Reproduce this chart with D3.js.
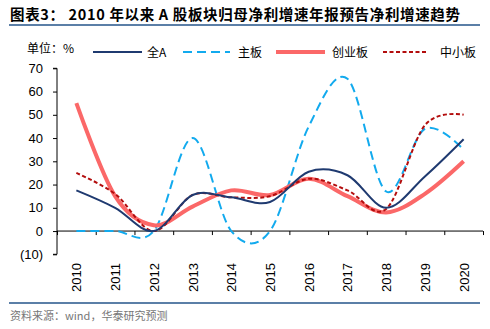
<!DOCTYPE html>
<html><head><meta charset="utf-8">
<script src="https://cdn.jsdelivr.net/npm/d3@7"></script>
<style>
html,body{margin:0;padding:0;background:#fff;}
svg{display:block;}
</style></head>
<body>
<svg id="chart" width="490" height="329"></svg>
<script>
const years = ["2010","2011","2012","2013","2014","2015","2016","2017","2018","2019","2020"];
const quanA = [17.5, 10, 0, 15.5, 14.5, 12.5, 25.5, 24, 10, 23.5, 39.5];
const zhuban = [0, 0, 0, 40, 0, 0, 45, 65.5, 17, 44, 35];
const chuangye = [55, 15, 2.5, 10.5, 17.5, 15.5, 22.5, 15, 8, 16, 30];
const zhongxiao = [25, 16, 0, 15.5, 14.5, 15, 22.5, 17.5, 9.5, 45.5, 50];
const yTicks = [-10, 0, 10, 20, 30, 40, 50, 60, 70];
const seriesNames = ["全A", "主板", "创业板", "中小板"];

const svg = d3.select("#chart");
const font = "'Liberation Sans', Arial, sans-serif";
const cjk = "'Noto Sans CJK SC', sans-serif";

// title
svg.append("text").attr("x", 10).attr("y", 20)
  .attr("font-family", cjk).attr("font-weight", "bold").attr("font-size", 14.5).attr("fill", "#000")
  .attr("textLength", 450).attr("lengthAdjust", "spacing")
  .text("图表3：  2010 年以来 A 股板块归母净利增速年报预告净利增速趋势");
svg.append("line").attr("x1", 9).attr("x2", 480).attr("y1", 25).attr("y2", 25)
  .attr("stroke", "#5b7fa7").attr("stroke-width", 2);

const x = d3.scaleBand().domain(years).range([57, 483]);
const y = d3.scaleLinear().domain([-10, 70]).range([254.3, 68.3]);

// y axis
const yAxis = d3.axisLeft(y).tickValues(yTicks).tickSize(4).tickPadding(10)
  .tickFormat(d => d < 0 ? "(" + Math.abs(d) + ")" : d);
const gy = svg.append("g").attr("transform", "translate(57,0)").call(yAxis);
gy.select(".domain").attr("d", `M-4,${y(-10)}H0V${y(70)}H-4`).attr("stroke", "#000");
gy.selectAll(".tick line").attr("stroke", "#000");
gy.selectAll("text").attr("font-family", font).attr("font-size", 13).attr("fill", "#000");

// x axis at zero
svg.append("line").attr("x1", x.range()[0]).attr("x2", x.range()[1])
  .attr("y1", y(0)).attr("y2", y(0)).attr("stroke", "#000").attr("stroke-width", 1);
const bounds = years.map(d => x(d)).concat([x.range()[1]]);
svg.append("g").selectAll("line").data(bounds).join("line")
  .attr("x1", d => d + 0.5).attr("x2", d => d + 0.5)
  .attr("y1", y(0)).attr("y2", y(0) + 4).attr("stroke", "#000");
svg.append("g").selectAll("text").data(years).join("text")
  .attr("transform", d => `translate(${x(d) + x.bandwidth()/2 + 5},263) rotate(-90)`)
  .attr("text-anchor", "end").attr("font-family", font).attr("font-size", 13).attr("fill", "#000")
  .text(d => d);

// lines
const line = d3.line().x((d, i) => x(years[i]) + x.bandwidth()/2).y(d => y(d))
  .curve(d3.curveCatmullRom.alpha(0));
const series = [
  {name: seriesNames[0], data: quanA, color: "#1f3a70", w: 2, dash: null},
  {name: seriesNames[1], data: zhuban, color: "#12aaee", w: 2, dash: "9,5"},
  {name: seriesNames[2], data: chuangye, color: "#fb6868", w: 4, dash: null},
  {name: seriesNames[3], data: zhongxiao, color: "#b30d0d", w: 2, dash: "4,2.5"}
];
const drawOrder = [1, 2, 3, 0];
drawOrder.forEach(i => {
  const s = series[i];
  svg.append("path").attr("d", line(s.data)).attr("fill", "none")
    .attr("stroke", s.color).attr("stroke-width", s.w)
    .attr("stroke-dasharray", s.dash);
});

// legend
svg.append("text").attr("x", 27).attr("y", 53).attr("font-family", cjk).attr("font-size", 12).attr("fill", "#000").text("单位：%");
const legX = [[93, 142, 147], [183, 230, 238], [276, 325, 332], [383, 428, 440]];
series.forEach((s, i) => {
  svg.append("line").attr("x1", legX[i][0]).attr("x2", legX[i][1]).attr("y1", 52).attr("y2", 52)
    .attr("stroke", s.color).attr("stroke-width", s.w).attr("stroke-dasharray", s.dash);
  svg.append("text").attr("x", legX[i][2]).attr("y", 57).attr("font-family", cjk).attr("font-size", 12)
    .attr("fill", "#000").text(s.name);
});

// footer
svg.append("line").attr("x1", 9).attr("x2", 480).attr("y1", 303).attr("y2", 303)
  .attr("stroke", "#5b7fa7").attr("stroke-width", 2);
svg.append("text").attr("x", 10).attr("y", 320).attr("font-family", cjk).attr("font-size", 11)
  .attr("fill", "#777").text("资料来源：wind，华泰研究预测");
</script>
</body></html>
